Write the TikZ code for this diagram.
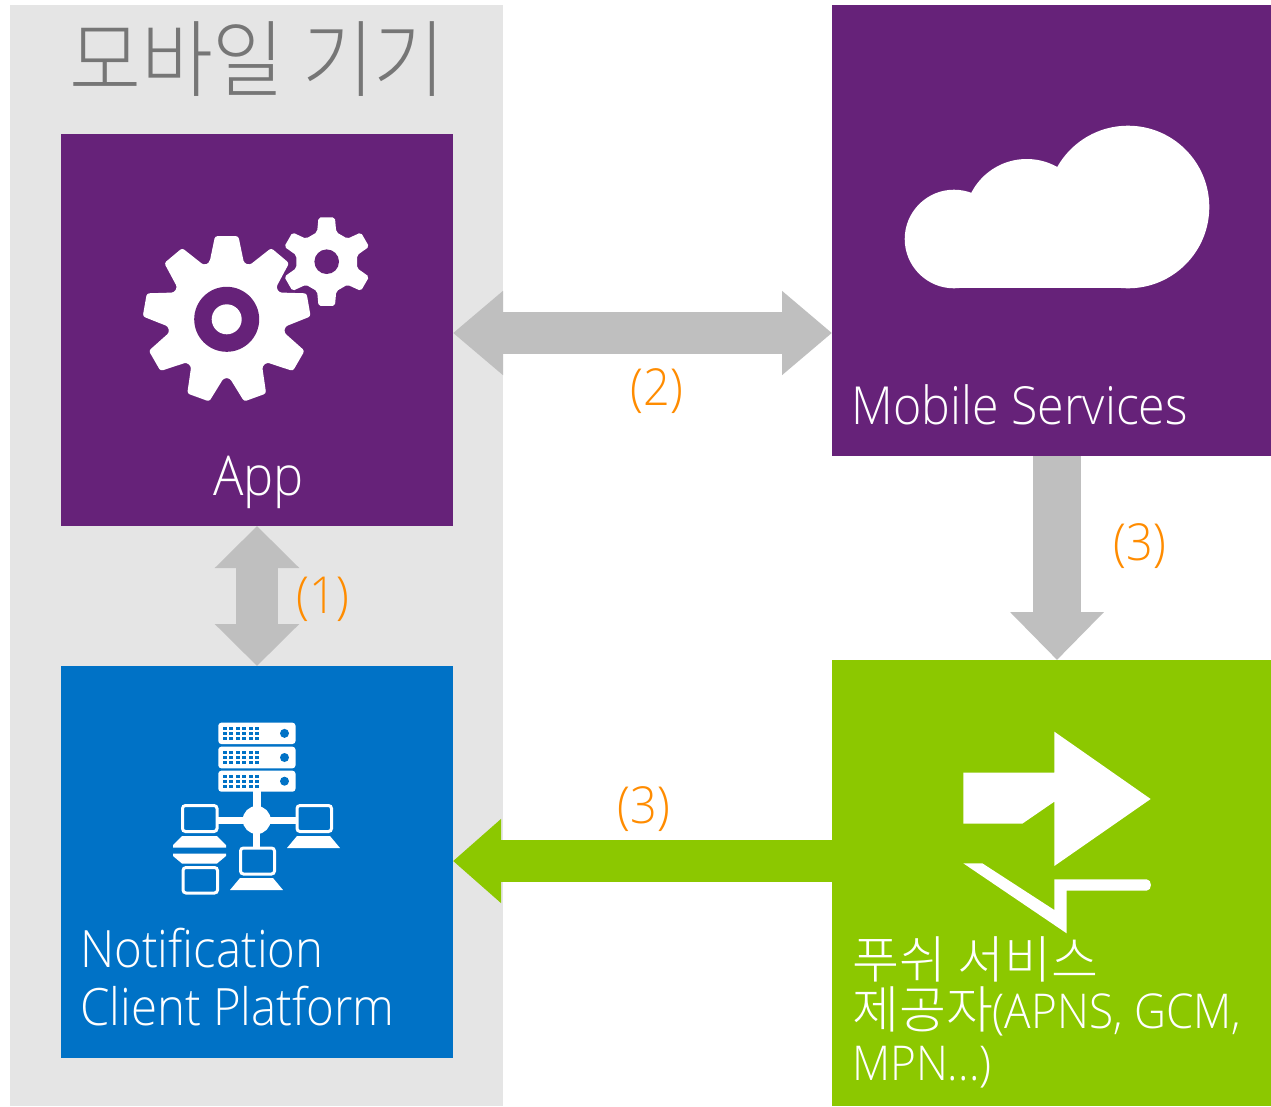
\documentclass[tikz,border=0pt]{standalone}
\usepackage{fontspec}
\setmainfont{Open Sans Light}[FakeStretch=0.92]
\newfontfamily\krf{Noto Sans CJK KR Light}
\newfontfamily\krt{Noto Sans CJK KR Light}[FakeStretch=0.93]
\usetikzlibrary{arrows.meta}
\definecolor{pur}{HTML}{662279}
\definecolor{blu}{HTML}{0072C6}
\definecolor{grn}{HTML}{8CC800}
\definecolor{gry}{HTML}{BFBFBF}
\definecolor{bgg}{HTML}{E5E5E5}
\definecolor{org}{HTML}{FF8C00}
\definecolor{ttl}{HTML}{767676}
\tikzset{
 tile/.style={draw=none,inner sep=0pt,outer sep=0pt,rectangle},
 lab/.style={anchor=base west,inner sep=0pt,text=white,font=\fontsize{52.5}{58}\selectfont,align=left},
 num/.style={anchor=base,inner sep=0pt,text=org,font=\fontsize{51}{58}\selectfont},
 mon/.style={draw=white,line width=3pt,rounded corners=3pt},
}
\begin{document}
\begin{tikzpicture}[x=1pt,y=-1pt]
\useasboundingbox (0,0) rectangle (1271,1106);
\fill[white] (0,0) rectangle (1271,1106);
\node[tile,fill=bgg,minimum width=493pt,minimum height=1101pt,anchor=north west] (dev) at (10,5) {};
\node[tile,fill=pur,minimum width=392pt,minimum height=392pt,anchor=north west] (app) at (61,134) {};
\node[tile,fill=blu,minimum width=392pt,minimum height=392pt,anchor=north west] (ncp) at (61,666) {};
\node[tile,fill=pur,minimum width=439pt,minimum height=451pt,anchor=north west] (ms) at (832,5) {};
\node[tile,fill=grn,minimum width=439pt,minimum height=446pt,anchor=north west] (psp) at (832,660) {};
% connectors
\coordinate (a2l) at (app.east |- 0,333);
\coordinate (a2r) at (ms.west |- 0,333);
\coordinate (a3g) at (psp.west |- 0,861);
\coordinate (a3t) at (app.east |- 0,861);
\coordinate (a3u) at (1057,456);
\coordinate (a3d) at (1057,660);
\draw[gry,line width=42pt,{Triangle[length=50pt,width=81pt]}-{Triangle[length=50pt,width=81pt]}] (a2l) -- (a2r);
\draw[gry,line width=42pt,{Triangle[length=42pt,width=82pt]}-{Triangle[length=42pt,width=82pt]}] (app.south -| 257,0) -- (ncp.north -| 257,0);
\draw[gry,line width=48pt,-{Triangle[length=48pt,width=91pt]}] (a3u) -- (a3d);
\draw[grn,line width=42pt,-{Triangle[length=48pt,width=81pt]}] (a3g) -- (a3t);
% title
\node[anchor=base west,inner sep=0pt,text=ttl,font=\krt\fontsize{84}{85}\selectfont] (title) at (69,90) {모바일 기기};
% gears
\begin{scope}[shift={(226.7,319.3)}]
 \fill[white,rounded corners=2.5pt] (253:59)
  \foreach \a in {270,310,350,30,70,110,150,190,230}{
   -- (\a-17:59) -- (\a-8:84) -- (\a+8:84) -- (\a+17:59)
  } -- cycle;
 \fill[pur] (0,0) circle (32.5);
 \fill[white] (0,0) circle (15);
\end{scope}
\begin{scope}[shift={(326.7,261.7)}]
 \fill[white,rounded corners=2pt] (252:31)
  \foreach \a in {270,330,30,90,150,210}{
   -- (\a-18:31) -- (\a-10.5:45) -- (\a+10.5:45) -- (\a+18:31)
  } -- cycle;
 \fill[pur] (0,0) circle (12.3);
\end{scope}
% cloud
\fill[white] (954,239) circle (49.3);
\fill[white] (1026.7,221.3) circle (62.3);
\fill[white] (1128,207) circle (81.3);
\fill[white] (954,215) rectangle (1128,288.3);
% server
\foreach \yt/\yb in {722.7/744,746.7/768.3,770.7/791.7}{
 \fill[white,rounded corners=3pt] (218.3,\yt) rectangle (295.5,\yb);
 \fill[blu] (284.5,\yt/2+\yb/2) circle (4.5);
 \foreach \i in {0,...,5}{\foreach \j in {0,1,2}{
  \fill[blu] (222.7+\i*6.5,\yt+4.2+\j*5) rectangle ++(4,3.2);
 }}
}
\fill[white] (252.5,791) rectangle (260.7,812);
\fill[white] (218,816.5) rectangle (297,823.5);
\fill[white] (253,825) rectangle (260,847);
\fill[white] (256.7,820) circle (14);
\draw[mon] (182.5,805.5) rectangle (217,831.5);
\draw[mon] (183,867.5) rectangle (217.5,893);
\draw[mon] (297,805.5) rectangle (331.5,831.5);
\draw[mon] (240.5,848) rectangle (274.5,874);
\fill[white] (173,845) -- (182,836) -- (217,836) -- (226,845) -- (226,847.5) -- (173,847.5) -- cycle;
\fill[white] (173,853.5) -- (226,853.5) -- (226,856) -- (217,863.5) -- (182,863.5) -- (173,856) -- cycle;
\fill[white] (287,848) -- (297,836) -- (330,836) -- (340,848) -- cycle;
\fill[white] (230,890) -- (240,878) -- (273,878) -- (283,890) -- cycle;
% push icon
\begin{scope}[shift={(940,720)},x=0.3333pt,y=-0.3333pt]
 \fill[white] (70,158) -- (343,158) -- (343,35) -- (632,237) -- (343,438) -- (343,245) -- (247,311) -- (70,311) -- cycle;
 \fill[white] (70,430) -- (127,430) -- (343,570) -- (343,478) -- (620,478) .. controls (637,478) and (637,512) .. (620,512) -- (380,512) -- (380,640) -- cycle;
\end{scope}
% labels
\node[lab,font=\fontsize{55}{58}\selectfont] (tapp) at (213,495) {App};
\node[lab] (tms) at (851.5,424) {Mobile Services};
\node[lab,anchor=north west,font=\fontsize{51.5}{58}\selectfont] (tncp) at (80,928) {Notification\\Client Platform};
\node[lab] (tp1) at (852,978) {\krf\fontsize{51}{52}\selectfont 푸쉬 서비스};
\node[lab] (tp2) at (852,1028) {\fontsize{48}{52}\selectfont{\krf\fontsize{51}{52}\selectfont 제공자}(APNS, GCM,};
\node[lab] (tp3) at (852,1080) {\fontsize{48}{52}\selectfont MPN...)};
\node[num] (n1) at (323,613) {(1)};
\node[num] (n2) at (657,405) {(2)};
\node[num] (n3a) at (1140,560) {(3)};
\node[num] (n3b) at (644,823) {(3)};
\end{tikzpicture}
\end{document}
